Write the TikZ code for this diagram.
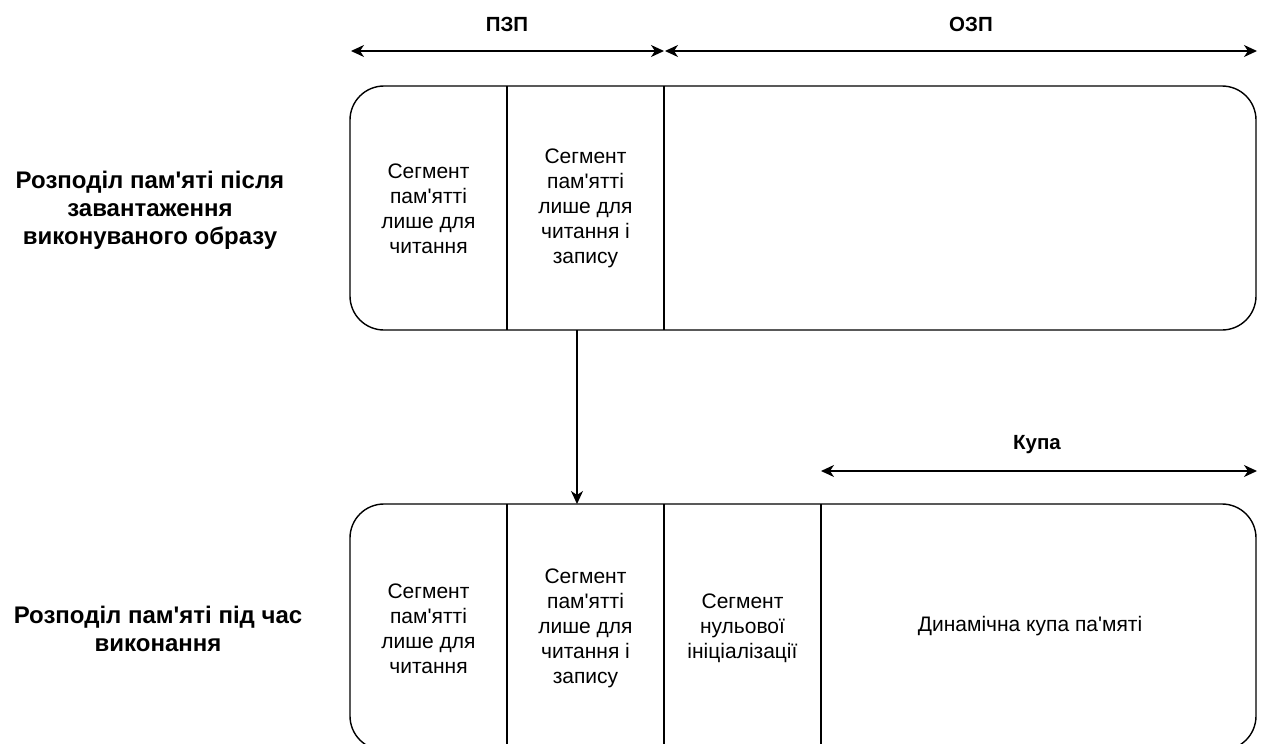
\documentclass[tikz,border=0pt]{standalone}
\usepackage{fontspec}
\setmainfont{Liberation Sans}[Ligatures=TeXOff]
\usetikzlibrary{arrows.meta}
\newcommand{\myap}{\char"0027\relax}
\begin{document}
\begin{tikzpicture}[x=1pt,y=-1pt,
  line width=1.4pt,
  tipend/.style={-{Stealth[length=13pt,width=12pt,inset=4pt]}},
  dimline/.style={{Stealth[length=13pt,width=12pt,inset=4pt]}-{Stealth[length=13pt,width=12pt,inset=4pt]}},
  celltext/.style={font=\fontsize{21}{25}\selectfont, align=center, inner sep=0pt},
  sidelabel/.style={font=\fontsize{24}{28}\selectfont\bfseries, align=center, inner sep=0pt},
  toplabel/.style={font=\fontsize{20.5}{24}\selectfont\bfseries, inner sep=0pt},
  membox/.style={draw, rounded corners=34pt, rectangle, minimum width=906pt, inner sep=0pt}]
\useasboundingbox (0,0) rectangle (1262,744);

% top labels and dimension arrows
\node[toplabel] (pzp) at (507,24) {ПЗП};
\node[toplabel] (ozp) at (971,24) {ОЗП};
\coordinate (pzpL) at (351,51);
\coordinate (pzpR) at (664,51);
\coordinate (ozpL) at (665,51);
\coordinate (ozpR) at (1257,51);
\draw[dimline] (pzpL) -- (pzpR);
\draw[dimline] (ozpL) -- (ozpR);

% top memory layout
\node[membox, minimum height=244pt] (topbox) at (803,208) {};
\draw (507,86) -- (507,330);
\draw (664,86) -- (664,330);
\node[celltext] (t1) at (428.5,209) {Сегмент\\пам\myap ятті\\лише для\\читання};
\node[celltext] (t2) at (585.5,208) {Сегмент\\пам\myap ятті\\лише для\\читання і\\запису};

\node[sidelabel] (lab1) at (150,210) {Розподіл пам\myap яті після\\завантаження\\виконуваного образу};

% transition arrow
\coordinate (arrS) at (577,330);
\coordinate (arrE) at (577,504);
\draw[tipend] (arrS) -- (arrE);

% heap label
\node[toplabel] (kupa) at (1037,445) {Купа};
\coordinate (kupaL) at (821,471);
\coordinate (kupaR) at (1257,471);
\draw[dimline] (kupaL) -- (kupaR);

% bottom memory layout
\node[membox, minimum height=246pt] (botbox) at (803,627) {};
\draw (507,504) -- (507,750);
\draw (664,504) -- (664,750);
\draw (821,504) -- (821,750);
\node[celltext] (b1) at (428.5,629) {Сегмент\\пам\myap ятті\\лише для\\читання};
\node[celltext] (b2) at (585.5,628) {Сегмент\\пам\myap ятті\\лише для\\читання і\\запису};
\node[celltext] (b3) at (742.5,628) {Сегмент\\нульової\\ініціалізації};
\node[celltext] (b4) at (1030,626) {Динамічна купа па\myap мяті};

\node[sidelabel] (lab2) at (158,628.5) {Розподіл пам\myap яті під час\\виконання};
\end{tikzpicture}
\end{document}
